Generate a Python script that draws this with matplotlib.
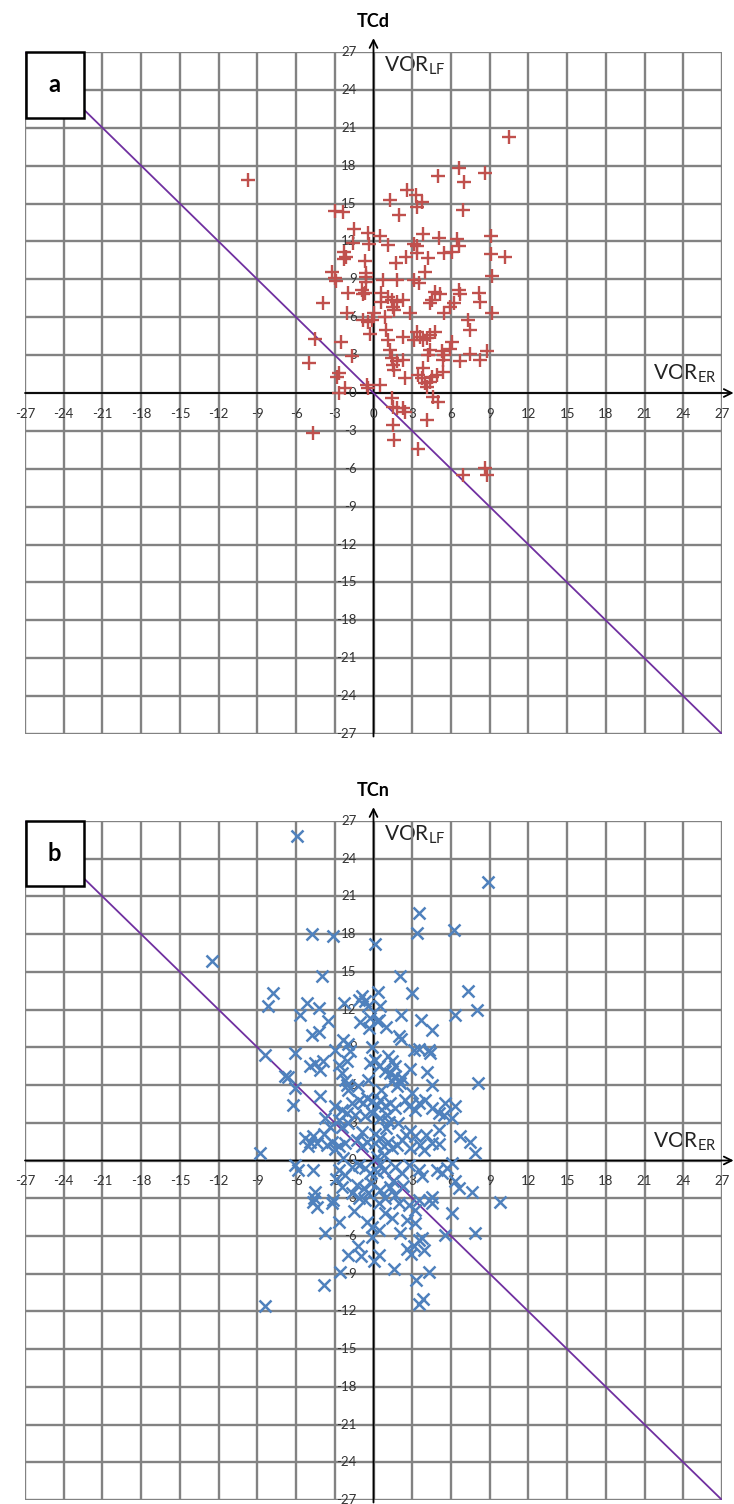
import matplotlib
matplotlib.use("Agg")
import matplotlib.pyplot as plt
from matplotlib.patches import Rectangle

plt.rcParams['font.family'] = ['Lato', 'DejaVu Sans']

# ---------------- data ----------------
ticks = list(range(-27, 28, 3))

a_x = [10.5, 6.65, 8.6, 4.97, 7.04, 2.57, 3.27, 3.78, 3.35, 1.28, 2.0, 6.96, -2.98, -2.34, -1.49, -0.4, 0.5, 1.1,
       3.8, 5.1, 6.45, 6.65, 9.1, -1.57, -0.35, 3.1, 3.35, -2.26, -2.15, -2.26, 5.5, 6.1, 9.1, 10.2, 3.4, 2.5, 4.2,
       -0.66, 1.74, 4.0, -3.2, -2.9, -0.6, -0.6, -0.6, 0.76, 1.8, 3.1, 3.5, 9.2, -2.0, -0.9, -0.66, 4.77, 6.65, 8.2,
       -0.8, -3.94, 0.58, 0.58, 1.15, 1.4, 1.8, 2.3, 1.53, 1.6, 2.83, 4.4, 4.5, 5.15, 5.5, 5.9, 6.2, 6.7, 8.25, 9.16,
       -2.08, -0.8, -0.4, -0.14, 0.0, 0.9, -0.27, 1.0, 1.15, 1.28, 2.3, 3.1, 3.35, 3.6, 3.86, 4.12, 4.38, 4.77, 6.06,
       5.93, 7.35, 7.5, 4.38, 4.25, 5.3, 5.5, 5.4, 6.7, 7.5, 8.25, 8.8, -4.5, -2.55, -4.98, -1.7, -2.65, -2.8, -2.2,
       -2.7, -0.53, -0.4, 0.5, 1.41, 1.53, 1.8, 2.3, 1.6, 2.44, 3.47, 3.74, 4.0, 4.12, 4.38, 4.5, 4.9, 5.4, 3.86,
       4.6, 5.0, 1.41, 1.53, 1.8, 2.3, 2.44, 1.53, 1.6, 4.12, 3.47, -4.67, 6.96, 8.64, 8.8, -9.7, -3.0]
a_y = [20.3, 17.8, 17.4, 17.2, 16.7, 16.1, 15.7, 15.1, 14.7, 15.3, 14.1, 14.5, 14.4, 14.3, 13.0, 12.7, 12.4, 11.7,
       12.6, 12.3, 12.2, 11.6, 12.4, 11.9, 11.8, 11.8, 11.6, 11.2, 10.8, 10.6, 11.1, 11.2, 11.0, 10.8, 11.1, 10.8, 10.7,
       10.45, 10.3, 9.6, 9.6, 8.9, 9.5, 9.2, 8.8, 8.95, 8.95, 8.95, 8.7, 9.3, 7.9, 8.15, 7.9, 8.0, 8.15, 7.9,
       7.8, 7.1, 7.9, 7.2, 7.6, 7.4, 7.2, 7.4, 6.8, 6.6, 6.3, 7.1, 7.4, 7.8, 6.3, 6.8, 7.1, 7.8, 7.2, 6.3,
       6.36, 5.8, 5.65, 5.8, 6.3, 6.0, 4.7, 5.0, 4.2, 3.4, 4.45, 4.2, 4.85, 4.45, 4.2, 4.33, 4.6, 4.85, 4.06,
       3.5, 5.8, 5.0, 3.4, 3.0, 3.3, 3.0, 2.6, 2.5, 3.1, 2.6, 3.3, 4.3, 4.06, 2.4, 2.9, 1.56, 1.3, 0.37,
       0.0, 0.63, 0.37, 0.63, 2.75, 2.2, 2.5, 2.6, 1.8, 1.16, 1.42, 1.16, 0.77, 0.5, 0.9, 1.3, 1.42, 1.69, 1.96,
       -0.3, -0.7, -0.42, -1.08, -1.21, -1.21, -1.48, -2.5, -3.7, -2.1, -4.46, -3.2, -6.5, -5.96, -6.5, 16.9, 9.1]

b_x = [-5.95, 8.87, 3.49, -4.78, -3.1, 0.13, 3.36, 6.2, -12.5, -4.0, 2.07, -7.76, -8.2, 2.97, 7.3, 8.0, 6.34, 2.15,
       3.7, 4.5, -5.17, -5.7, -4.2, -3.54, -4.78, -4.2, -2.28, -0.9, -1.16, -0.65, -0.44, 0.34, 0.52, -1.03, -0.26,
       0.26, 0.39, 0.98, -0.34, 1.94, 2.15, -2.33, -1.94,
       -2.97, -1.81, 3.1, 3.5, 4.27, 4.4, -8.4, -6.08, -4.9, -4.5, -4.14, -3.9, -2.7, -2.07, -0.26, 0.13, 0.39, 1.42,
       1.68, 2.84, 4.14, -6.85, -6.6, -6.08, -2.46, -2.2, -2.07, -1.94, 1.29, 1.68, 1.94, 2.07, 1.42, 1.81, 2.2, 4.53,
       8.1, -6.2, -4.14, -2.97, -2.46, -2.07, -1.16, -0.78, -0.52, -0.13, 0.26, 0.52, 0.9, 1.29, 1.68, -1.42, -0.65,
       -0.13, 0.52, 1.03, 2.46, 2.72, 3.23, 3.5, 4.0, 4.53, 5.04, 5.56, 5.43, 6.08, 6.34, -3.75, -3.36, -2.7, -2.46,
       -1.94, -5.3, -4.9, -4.65, -5.04, -4.4, -3.62, -3.23, -2.7, -2.2, -1.29, -0.9, -0.52, 0.13, 0.52, 0.78, 1.16,
       1.42, 1.81, 2.2, 2.84, 3.23, 3.62, 3.88, 4.53, 5.04, 6.72, 7.5, 7.89, -8.8, -6.08, -5.82, -4.65, -2.7, -2.2,
       -1.68, -1.16, -0.65, -0.26, 0.26, 0.78, 1.68, 2.2, 2.72, 3.5, 3.75, 4.9, 5.3, 5.7, 6.08, 6.34, 6.6, 7.63, 9.83,
       -4.53, -4.65, -4.4, -3.23, -3.1, -2.46, -1.68, -1.29, -1.16, -0.65, -0.39, 0.52, 0.9, 1.29, 1.68, 1.94, 2.72,
       3.23, 3.5, 4.27, 4.53, 4.53, -2.7, -0.52, -0.13, 0.39, 0.9, 1.42, 2.59, 3.23, -3.75, -0.13, 2.07, 3.5, 3.75,
       5.56, 6.08, 7.89,
       -8.4, -3.8, -2.6, -2.0, -1.2, 0.4, 0.0, 1.6, 2.6, 2.9, 3.1, 3.3, 3.5, 3.8, 4.3, 3.9, -1.0, -4.6,
       0.6, 1.0, -0.9, 0.3, -0.4, 1.2, -1.7, 0.8, -0.2, 2.5, -1.2, 0.1, 1.9, 3.0, -2.4, -0.7, 0.5, 1.5, 2.3, -3.0,
       -1.5, 0.9, 2.8, 4.1, -0.1, 1.1, -2.9, 0.4, 5.1, -3.8]
b_y = [25.8, 22.15, 19.66, 18.04, 17.86, 17.2, 18.1, 18.3, 15.9, 14.7, 14.7, 13.3, 12.3, 13.3, 13.5, 12.0, 11.55, 11.55,
       11.2, 10.4, 12.5, 11.55, 12.1, 11.1, 10.0, 10.2, 12.55, 13.1, 12.8, 12.7, 12.3, 13.4, 12.25, 11.0, 11.35,
       11.1, 11.2, 10.6, 10.5, 9.9, 9.7, 9.6, 9.3,
       8.8, 8.7, 8.8, 8.87, 8.8, 8.55, 8.4, 8.55, 7.5, 7.75, 7.2, 7.9, 7.6, 7.9, 7.75, 8.0, 7.5, 7.9,
       7.5, 7.27, 7.0, 6.74, 6.64, 5.76, 6.96, 6.43, 6.03, 5.63, 6.96, 6.69, 6.43, 6.16, 6.29, 5.9, 6.56, 6.03,
       6.16, 4.43, 5.1, 4.3, 4.04, 3.77, 4.83, 4.57, 4.96, 4.7, 4.43, 4.83, 4.3, 4.57, 4.17, 3.64, 3.5,
       3.77, 3.37, 3.64, 4.83, 4.3, 4.04, 4.57, 4.83, 4.17, 3.77, 4.57, 3.64, 3.37, 4.3, 3.37, 2.7, 3.24, 2.7,
       2.97, 1.78, 1.51, 1.91, 1.12, 1.38, 1.25, 1.51, 1.12, 1.38, 1.65, 1.12, 1.51, 1.38, 1.78, 1.12, 1.51,
       0.98, 1.25, 1.65, 2.31, 1.91, 1.25, 0.85, 1.38, 2.44, 1.91, 1.51, 0.58, 0.58, -0.35, -0.74, -0.74, -0.74, -1.14,
       -0.48, -0.35, -0.61, -1.0, -0.88, -0.74, -0.48, -1.0, -0.35, -0.74, -1.27, -0.74, -1.0, -0.61, -0.21, -1.67, -2.2, -2.47, -3.27,
       -2.47, -3.27, -3.66, -3.4, -3.13, -2.07, -2.6, -1.94, -3.0, -3.13, -2.6, -2.34, -3.0, -2.07, -2.73, -3.4, -3.53,
       -3.93, -3.13, -3.13, -2.87, -3.4, -4.86, -4.86, -5.26, -5.52, -4.2, -4.6, -4.73, -5.0, -5.8, -6.05, -5.8, -6.3, -6.2,
       -5.9, -4.2, -5.8,
       -11.6, -9.9, -8.9, -7.5, -6.8, -7.5, -8.0, -8.6, -7.0, -7.4, -6.8, -9.5, -11.4, -11.0, -8.9, -7.1, -7.6, -3.0,
       5.6, 2.6, 2.3, 0.3, 6.4, 3.1, 4.6, 0.4, -1.8, 2.0, 5.9, 2.1, 3.0, 5.4, 0.2, -2.2, -0.3, -1.6, -2.0, 0.9,
       -4.0, 7.1, 1.0, 2.0, 9.0, 8.3, -1.5, -3.4, 1.3, 2.1]

line_x = [-27, 27]
line_y = [27, -27]

panels = [
    dict(rect=[25 / 734, 1 - 734 / 1504, 697 / 734, 682 / 1504], title="TCd", tag="a",
         x=a_x, y=a_y, marker="+", color="#C0504D", ms=9.5, mew=1.7),
    dict(rect=[25 / 734, 1 - 1500 / 1504, 697 / 734, 679 / 1504], title="TCn", tag="b",
         x=b_x, y=b_y, marker="x", color="#4F81BD", ms=8.0, mew=1.8),
]

fig = plt.figure(figsize=(7.34, 15.04), dpi=100)

for p in panels:
    ax = fig.add_axes(p["rect"])
    ax.set_xlim(-27, 27)
    ax.set_ylim(-27, 27)
    ax.axis("off")
    grid_c = "#828282"
    for t in ticks:
        ax.axvline(t, color=grid_c, lw=1.7, zorder=2)
        ax.axhline(t, color=grid_c, lw=1.7, zorder=2)
    # axis lines with arrows
    ax.annotate("", xy=(27.9, 0), xytext=(-27, 0),
                arrowprops=dict(arrowstyle="->", color="black", lw=1.3, shrinkA=0, shrinkB=0,
                                mutation_scale=14),
                annotation_clip=False, zorder=3)
    ax.annotate("", xy=(0, 28.1), xytext=(0, -27.2),
                arrowprops=dict(arrowstyle="->", color="black", lw=1.3, shrinkA=0, shrinkB=0,
                                mutation_scale=14),
                annotation_clip=False, zorder=3)
    # tick labels
    for t in ticks:
        ax.text(t, -1.65, str(t), ha="center", va="center", fontsize=9.5, color="#333333",
                zorder=4, clip_on=False)
        ax.text(-1.3, t, str(t), ha="right", va="center", fontsize=9.5, color="#333333",
                zorder=4, clip_on=False)
    # axis names
    ax.text(0.85, 25.9, r"VOR$_{\mathregular{LF}}$", ha="left", va="center", fontsize=15,
            color="#222222", zorder=1)
    ax.text(26.6, 0.6, r"VOR$_{\mathregular{ER}}$", ha="right", va="bottom", fontsize=15,
            color="#222222", zorder=1)
    ax.text(0, 29.45, p["title"], ha="center", va="center", fontsize=13, fontweight="bold",
            clip_on=False)
    # diagonal line
    ax.plot(line_x, line_y, color="#7030A0", lw=1.3, zorder=5)
    # data
    ax.plot(p["x"], p["y"], linestyle="none", marker=p["marker"], color=p["color"],
            ms=p["ms"], mew=p["mew"], zorder=6)
    # tag box
    ax.add_patch(Rectangle((-26.95, 21.8), 4.5, 5.2, facecolor="white", edgecolor="black",
                           lw=1.8, zorder=8, clip_on=False))
    ax.text(-24.7, 24.4, p["tag"], ha="center", va="center", fontsize=17, fontweight="bold",
            zorder=9)

fig.savefig("out.png", dpi=100)
